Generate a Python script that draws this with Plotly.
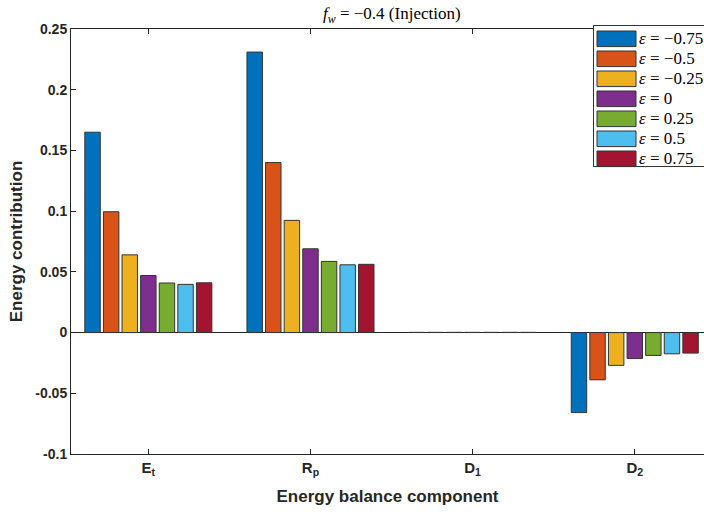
import plotly.graph_objects as go

categories = ["E<sub>t</sub>", "R<sub>p</sub>", "D<sub>1</sub>", "D<sub>2</sub>"]
series_names = ["−0.75", "−0.5", "−0.25", "0", "0.25", "0.5", "0.75"]
values = {
    "−0.75": [0.165, 0.231, 0.0002, -0.0659],
    "−0.5":  [0.0995, 0.140, 0.0002, -0.0389],
    "−0.25": [0.064, 0.0924, 0.0002, -0.027],
    "0":     [0.047, 0.069, 0.0002, -0.0213],
    "0.25":  [0.0408, 0.0586, 0.0002, -0.0188],
    "0.5":   [0.0397, 0.0558, 0.0002, -0.0175],
    "0.75":  [0.041, 0.0562, 0.0002, -0.0169],
}
colors = ["#0072BD", "#D95319", "#EDB120", "#7E2F8E", "#77AC30", "#4DBEEE", "#A2142F"]
ytick_vals = [-0.1, -0.05, 0, 0.05, 0.1, 0.15, 0.2, 0.25]
ytick_text = ["-0.1", "-0.05", "0", "0.05", "0.1", "0.15", "0.2", "0.25"]

W, H = 704, 512
L, R_PX, T, B_PX = 71, 704, 29, 454

def px_x(p):
    return (p - L) / (R_PX - L)

def px_y(p):
    return (B_PX - p) / (B_PX - T)

fig = go.Figure()
for name, c in zip(series_names, colors):
    fig.add_trace(go.Bar(
        x=categories, y=values[name], name=name,
        marker=dict(color=c, line=dict(color="#333333", width=1)),
        showlegend=False,
    ))

sans = "Liberation Sans, Arial, sans-serif"
serif = "Liberation Serif, Times New Roman, serif"
EQ = "&nbsp;=&nbsp;"

# manual legend (MATLAB style)
shapes = [dict(type="rect", xref="paper", yref="paper",
               x0=px_x(593.5), x1=px_x(730), y0=px_y(166.5), y1=px_y(25.5),
               line=dict(color="#333333", width=1), fillcolor="white", layer="above")]
annotations = []
for i, (name, c) in enumerate(zip(series_names, colors)):
    yc = 38.8 + 20 * i
    shapes.append(dict(type="rect", xref="paper", yref="paper",
                       x0=px_x(597), x1=px_x(636), y0=px_y(yc + 7.8), y1=px_y(yc - 7.8),
                       line=dict(color="#333333", width=1), fillcolor=c, layer="above"))
    annotations.append(dict(xref="paper", yref="paper", x=px_x(637), y=px_y(yc),
                            xanchor="left", yanchor="middle", showarrow=False,
                            text="<i>ε</i>" + EQ + name,
                            font=dict(family=serif, size=17, color="black")))

annotations.append(dict(xref="paper", yref="paper", x=px_x(392), y=px_y(15),
                        xanchor="center", yanchor="middle", showarrow=False,
                        text="<i>f</i><sub><i>w</i></sub>" + EQ + "−0.4 (Injection)",
                        font=dict(family=serif, size=17, color="black")))

fig.update_layout(
    width=W, height=H,
    margin=dict(l=L, r=W - R_PX, t=T, b=H - B_PX, pad=0),
    paper_bgcolor="white", plot_bgcolor="white",
    barmode="group", bargap=0.197, bargroupgap=0.17,
    shapes=shapes, annotations=annotations,
    xaxis=dict(
        type="category", range=[-0.477, 3.427],
        showline=True, linecolor="#262626", linewidth=1, mirror="ticks",
        ticks="inside", ticklen=5, tickcolor="#262626",
        tickfont=dict(family=sans, size=15, color="#262626", weight="bold"),
        title=dict(text="Energy balance component", standoff=12,
                   font=dict(family=sans, size=17, color="#262626", weight="bold")),
        showgrid=False, zeroline=False,
    ),
    yaxis=dict(
        range=[-0.1, 0.25],
        tickvals=ytick_vals, ticktext=ytick_text,
        showline=True, linecolor="#262626", linewidth=1,
        ticks="inside", ticklen=5, tickcolor="#262626",
        tickfont=dict(family=sans, size=14, color="#262626", weight="bold"),
        title=dict(text="Energy contribution", standoff=8,
                   font=dict(family=sans, size=17, color="#262626", weight="bold")),
        showgrid=False, zeroline=True, zerolinecolor="#262626", zerolinewidth=1,
    ),
)

fig.write_html("out.html")
